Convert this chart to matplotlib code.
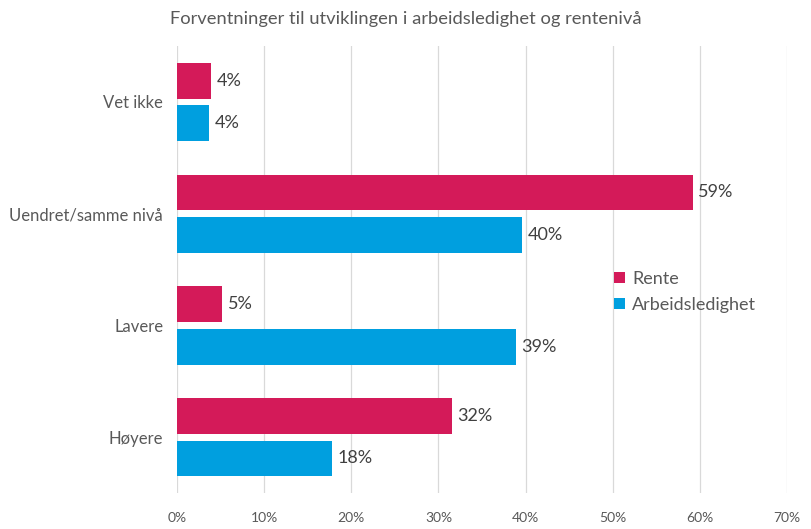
import matplotlib
matplotlib.use("Agg")
import matplotlib.pyplot as plt
import numpy as np

plt.rcParams['font.family'] = ['Lato', 'DejaVu Sans']

# data (top to bottom in the chart)
categories = ['Vet ikke', 'Uendret/samme nivå', 'Lavere', 'Høyere']
rente = [3.9, 59.2, 5.2, 31.5]
arbeid = [3.7, 39.6, 38.9, 17.8]
rente_labels = ['4%', '59%', '5%', '32%']
arbeid_labels = ['4%', '40%', '39%', '18%']
xticks = [0, 10, 20, 30, 40, 50, 60, 70]

c_rente = '#D41A59'
c_arbeid = '#009FDF'
txt = '#595959'

fig = plt.figure(figsize=(8.11, 5.29), dpi=100)
ax = fig.add_axes([0.2183, 0.068, 0.7522, 0.845])

y = np.arange(len(categories))[::-1].astype(float)
h = 0.32
off = 0.19

ax.barh(y + off, rente, height=h, color=c_rente, label='Rente', zorder=3)
ax.barh(y - off, arbeid, height=h, color=c_arbeid, label='Arbeidsledighet', zorder=3)

for yy, v, lab in zip(y, rente, rente_labels):
    ax.text(v + 0.6, yy + off, lab, va='center', ha='left', fontsize=13, color='#404040')
for yy, v, lab in zip(y, arbeid, arbeid_labels):
    ax.text(v + 0.6, yy - off, lab, va='center', ha='left', fontsize=13, color='#404040')

ax.set_xlim(0, 70)
ax.set_ylim(-0.5, 3.5)
ax.set_xticks(xticks)
ax.set_xticklabels([f'{t}%' for t in xticks], fontsize=10, color=txt)
ax.set_yticks(y)
ax.set_yticklabels(categories, fontsize=12, color=txt)
ax.tick_params(axis='both', length=0)
ax.tick_params(axis='x', pad=14)
ax.tick_params(axis='y', pad=10)

ax.grid(axis='x', color='#D9D9D9', linewidth=0.9, zorder=0)
for s in ax.spines.values():
    s.set_visible(False)

leg = ax.legend(loc='center left', bbox_to_anchor=(0.69, 0.45), frameon=False,
                fontsize=13, handlelength=0.6, handleheight=0.6,
                handletextpad=0.4, labelspacing=0.55)
for t in leg.get_texts():
    t.set_color(txt)

fig.text(0.5, 0.965, 'Forventninger til utviklingen i arbeidsledighet og rentenivå',
         ha='center', va='center', fontsize=13.2, color=txt)

fig.savefig('out.png', dpi=100)
